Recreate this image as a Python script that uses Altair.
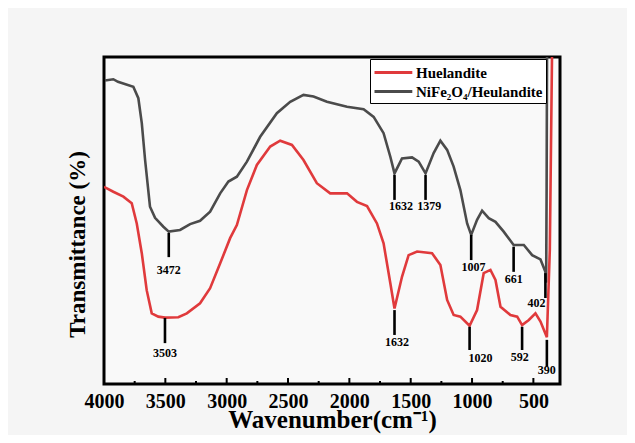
import altair as alt
import pandas as pd

# ---- data ----
gray_w = [3992, 3924, 3886, 3761, 3720, 3692, 3665, 3625, 3584, 3516, 3472, 3380, 3298, 3217, 3135,
          3053, 2986, 2917, 2835, 2727, 2591, 2482, 2374, 2292, 2183, 2019, 1884, 1802, 1721, 1666,
          1632, 1571, 1489, 1435, 1379, 1313, 1258, 1203, 1150, 1095, 1040, 1007, 959, 918, 864,
          809, 742, 661, 578, 510, 442, 402, 396, 392, 388]
gray_t = [92.8, 93.2, 92.4, 90.9, 87.4, 79.8, 68.5, 54.2, 50.8, 48.1, 46.6, 47.1, 48.9, 49.9, 52.7,
          58.3, 61.9, 63.4, 68.0, 75.6, 82.8, 86.3, 88.4, 87.9, 86.3, 84.8, 84.0, 81.7, 76.7, 69.5,
          64.4, 69.0, 69.3, 68.0, 64.4, 70.6, 74.4, 71.6, 66.5, 59.3, 49.1, 45.6, 50.2, 53.0, 50.7,
          49.6, 46.6, 42.5, 42.5, 39.4, 38.1, 34.3, 31.0, 60.0, 110.0]

red_w = [4000, 3924, 3842, 3774, 3733, 3692, 3652, 3611, 3557, 3503, 3394, 3325, 3217, 3135, 3053,
         2972, 2917, 2835, 2754, 2645, 2564, 2468, 2374, 2265, 2156, 2019, 1938, 1856, 1775, 1721,
         1666, 1632, 1571, 1517, 1448, 1326, 1258, 1203, 1150, 1095, 1020, 959, 905, 850, 809,
         768, 687, 632, 592, 537, 483, 442, 390, 366, 347]
red_t = [60.3, 58.8, 57.3, 55.3, 49.1, 40.0, 28.7, 21.6, 20.6, 20.3, 20.4, 21.6, 24.7, 29.3, 36.9,
         44.6, 48.6, 59.3, 67.0, 72.6, 74.4, 73.1, 68.5, 61.4, 58.3, 58.3, 55.7, 54.4, 49.1, 43.0,
         30.8, 23.1, 32.8, 39.4, 40.5, 40.0, 36.4, 25.7, 21.1, 20.6, 17.8, 22.6, 33.9, 34.9, 31.8,
         23.6, 21.1, 20.6, 18.0, 19.6, 21.6, 19.1, 14.3, 41.0, 104.0]

series_names = ["Huelandite", "NiFe\u2082O\u2084/Heulandite"]
series_colors = ["#e03a3c", "#4b4b4b"]

# annotations: peak, tick top, tick bottom, label position, label text
ann_w     = [3472, 1632, 1379, 1007, 661, 402, 3503, 1632, 1020, 592, 390]
ann_top   = [46.2, 63.9, 63.9, 45.6, 42.0, 33.9, 20.2, 22.6, 17.5, 17.5, 13.5]
ann_bot   = [38.8, 56.3, 56.3, 37.9, 34.3, 26.3, 12.5, 15.0, 10.4, 10.4, 5.3]
ann_lw    = [3472, 1579, 1348, 989, 661, 475, 3503, 1612, 932, 612, 390]
ann_ly    = [34.9, 54.4, 54.4, 35.9, 32.1, 24.8, 9.5, 12.9, 8.0, 8.3, 4.3]
ann_text  = ["3472", "1632", "1379", "1007", "661", "402", "3503", "1632", "1020", "592", "390"]

major_ticks = [4000, 3500, 3000, 2500, 2000, 1500, 1000, 500]
minor_ticks = [3750, 3250, 2750, 2250, 1750, 1250, 750]

FONT = "Liberation Serif"

gray_df = pd.DataFrame({"w": gray_w, "t": gray_t, "series": series_names[1],
                        "idx": range(len(gray_w))})
red_df = pd.DataFrame({"w": red_w, "t": red_t, "series": series_names[0],
                       "idx": range(len(red_w))})
ann_df = pd.DataFrame({"w": ann_w, "top": ann_top, "bot": ann_bot, "lw": ann_lw,
                       "ly": ann_ly, "text": ann_text})
major_df = pd.DataFrame({"w": major_ticks})
minor_df = pd.DataFrame({"w": minor_ticks})

xscale = alt.Scale(domain=[283, 4000], reverse=True, nice=False, zero=False)
yscale = alt.Scale(domain=[0, 100], nice=False, zero=False)

xaxis = alt.Axis(values=major_ticks, format="d", ticks=False, domain=False, grid=False,
                 labelFlush=False, labelOverlap=False,
                 labelFont=FONT, labelFontWeight="bold", labelFontSize=20, labelColor="black",
                 labelPadding=7, title="Wavenumber(cm\u207b\u00b9)", titleFont=FONT,
                 titleFontWeight="bold", titleFontSize=25, titleColor="black",
                 titleBaseline="alphabetic", titleY=43)
yaxis = alt.Axis(labels=False, ticks=False, domain=False, grid=False,
                 title="Transmittance (%)", titleFont=FONT, titleFontWeight="bold",
                 titleFontSize=23, titleColor="black", titleAngle=270, titleX=-20,
                 titleY=187, titleAlign="center", titleBaseline="alphabetic")

color = alt.Color("series:N", scale=alt.Scale(domain=series_names, range=series_colors),
                  legend=alt.Legend(title=None, orient="none", legendX=266, legendY=2,
                                    symbolType="M-1,0H3.2", symbolSize=324,
                                    symbolStrokeWidth=3, labelFont=FONT,
                                    labelFontWeight="bold", labelFontSize=15,
                                    labelColor="black", labelOffset=22, padding=3,
                                    rowPadding=0, fillColor="white",
                                    strokeColor="black"))

gray_line = alt.Chart(gray_df).mark_line(strokeWidth=2.6, clip=True).encode(
    x=alt.X("w:Q", scale=xscale, axis=xaxis),
    y=alt.Y("t:Q", scale=yscale, axis=yaxis),
    order="idx:Q",
    color=color,
)
red_line = alt.Chart(red_df).mark_line(strokeWidth=2.6, clip=True).encode(
    x=alt.X("w:Q", scale=xscale),
    y=alt.Y("t:Q", scale=yscale),
    order="idx:Q",
    color=color,
)
ann_rules = alt.Chart(ann_df).mark_rule(color="black", strokeWidth=2.6).encode(
    x=alt.X("w:Q", scale=xscale), y=alt.Y("top:Q", scale=yscale), y2="bot:Q"
)
ann_labels = alt.Chart(ann_df).mark_text(font=FONT, fontWeight="bold", fontSize=12,
                                         color="black", baseline="middle").encode(
    x=alt.X("lw:Q", scale=xscale), y=alt.Y("ly:Q", scale=yscale), text="text:N"
)
major = alt.Chart(major_df).mark_rule(color="black", strokeWidth=2).encode(
    x=alt.X("w:Q", scale=xscale), y=alt.value(327), y2=alt.value(321)
)
minor = alt.Chart(minor_df).mark_rule(color="black", strokeWidth=2).encode(
    x=alt.X("w:Q", scale=xscale), y=alt.value(327), y2=alt.value(324)
)

chart = alt.layer(gray_line, red_line, ann_rules, ann_labels, major, minor).properties(
    width=456, height=327,
    autosize=alt.AutoSizeParams(type="none"),
    padding={"left": 96, "top": 49, "right": 67, "bottom": 51},
    background="#f5f5f5",
).configure_view(stroke="black", strokeWidth=3, fill="#f9f9f9")

chart.save("out.html", embed_options={"renderer": "svg", "actions": False})
